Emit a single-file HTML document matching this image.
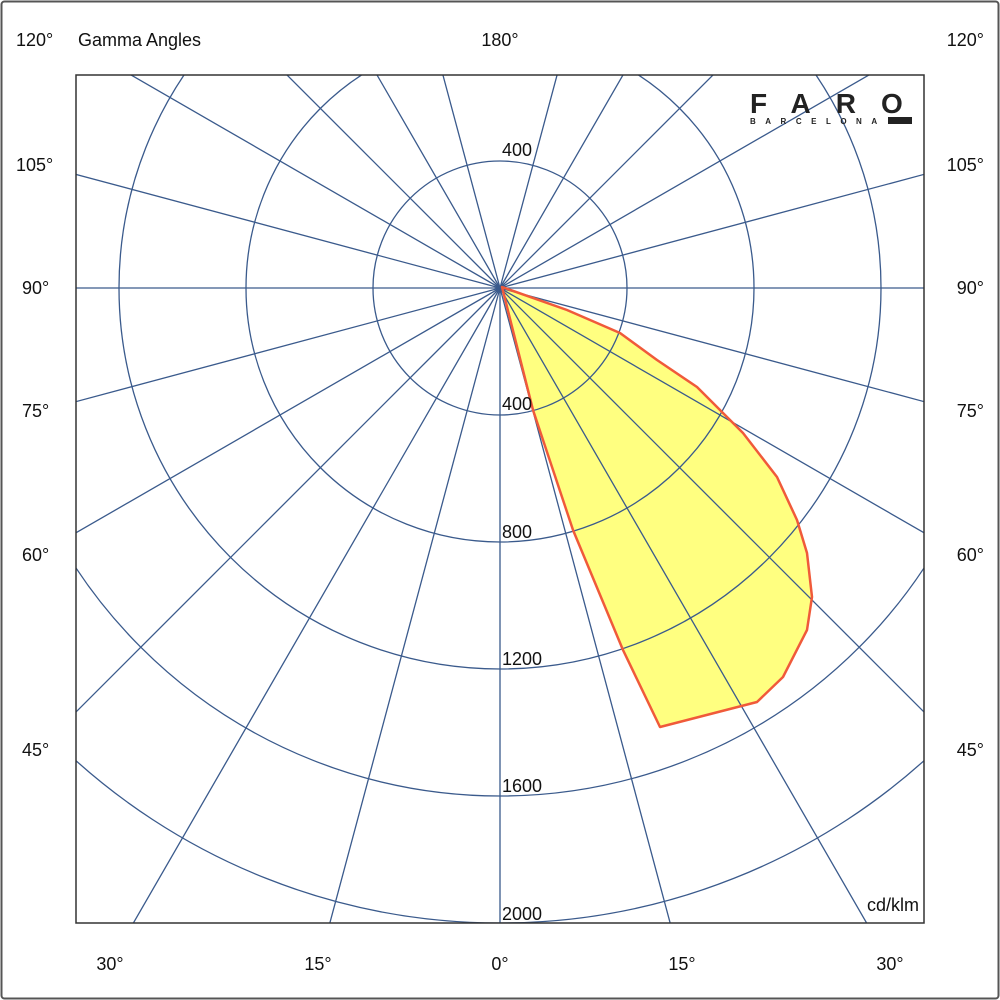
<!DOCTYPE html>
<html><head><meta charset="utf-8"><style>
html,body{margin:0;padding:0;background:#fff;overflow:hidden;width:1000px;height:1000px}
svg{display:block}
text{font-family:"Liberation Sans",sans-serif;fill:#111}
</style></head><body>
<svg width="1000" height="1000" viewBox="0 0 1000 1000" xmlns="http://www.w3.org/2000/svg">
<rect x="1.5" y="1.5" width="997" height="997" fill="#fff" stroke="#555" stroke-width="2" rx="3"/>
<defs><clipPath id="c"><rect x="76" y="75" width="848" height="848"/></clipPath></defs>
<g clip-path="url(#c)">
<polygon points="502,287 533,410 573,530 623,650 660,727 757,702 783,677 807,630 812,597 807,553 797,520 777,477 743,433 723,413 697,387 657,360 620,333 567,310" fill="#ffff80" stroke="none"/>
<g stroke="#3a5a8c" stroke-width="1.3" fill="none">
<circle cx="500" cy="288" r="127"/>
<circle cx="500" cy="288" r="254"/>
<circle cx="500" cy="288" r="381"/>
<circle cx="500" cy="288" r="508"/>
<circle cx="500" cy="288" r="635"/>
<line x1="500" y1="288" x2="500" y2="1500"/>
<line x1="500" y1="288" x2="500" y2="-1000" transform="rotate(15 500 288)"/>
<line x1="500" y1="288" x2="500" y2="-1000" transform="rotate(30 500 288)"/>
<line x1="500" y1="288" x2="500" y2="-1000" transform="rotate(45 500 288)"/>
<line x1="500" y1="288" x2="500" y2="-1000" transform="rotate(60 500 288)"/>
<line x1="500" y1="288" x2="500" y2="-1000" transform="rotate(75 500 288)"/>
<line x1="500" y1="288" x2="500" y2="-1000" transform="rotate(90 500 288)"/>
<line x1="500" y1="288" x2="500" y2="-1000" transform="rotate(105 500 288)"/>
<line x1="500" y1="288" x2="500" y2="-1000" transform="rotate(120 500 288)"/>
<line x1="500" y1="288" x2="500" y2="-1000" transform="rotate(135 500 288)"/>
<line x1="500" y1="288" x2="500" y2="-1000" transform="rotate(150 500 288)"/>
<line x1="500" y1="288" x2="500" y2="-1000" transform="rotate(165 500 288)"/>
<line x1="500" y1="288" x2="500" y2="-1000" transform="rotate(195 500 288)"/>
<line x1="500" y1="288" x2="500" y2="-1000" transform="rotate(210 500 288)"/>
<line x1="500" y1="288" x2="500" y2="-1000" transform="rotate(225 500 288)"/>
<line x1="500" y1="288" x2="500" y2="-1000" transform="rotate(240 500 288)"/>
<line x1="500" y1="288" x2="500" y2="-1000" transform="rotate(255 500 288)"/>
<line x1="500" y1="288" x2="500" y2="-1000" transform="rotate(270 500 288)"/>
<line x1="500" y1="288" x2="500" y2="-1000" transform="rotate(285 500 288)"/>
<line x1="500" y1="288" x2="500" y2="-1000" transform="rotate(300 500 288)"/>
<line x1="500" y1="288" x2="500" y2="-1000" transform="rotate(315 500 288)"/>
<line x1="500" y1="288" x2="500" y2="-1000" transform="rotate(330 500 288)"/>
<line x1="500" y1="288" x2="500" y2="-1000" transform="rotate(345 500 288)"/>
</g>
<polygon points="502,287 533,410 573,530 623,650 660,727 757,702 783,677 807,630 812,597 807,553 797,520 777,477 743,433 723,413 697,387 657,360 620,333 567,310" fill="none" stroke="#f05a3a" stroke-width="2.5" stroke-linejoin="round"/>
</g>
<rect x="76" y="75" width="848" height="848" fill="none" stroke="#333" stroke-width="1.5"/>
<g font-size="18">
<text x="502" y="156">400</text>
<text x="502" y="410">400</text>
<text x="502" y="538">800</text>
<text x="502" y="665">1200</text>
<text x="502" y="792">1600</text>
<text x="502" y="920">2000</text>
<text x="919" y="911" text-anchor="end">cd/klm</text>
<text x="16" y="46">120°</text>
<text x="78" y="46">Gamma Angles</text>
<text x="500" y="46" text-anchor="middle">180°</text>
<text x="984" y="46" text-anchor="end">120°</text>
<text x="16" y="171">105°</text><text x="984" y="171" text-anchor="end">105°</text>
<text x="22" y="294">90°</text><text x="984" y="294" text-anchor="end">90°</text>
<text x="22" y="417">75°</text><text x="984" y="417" text-anchor="end">75°</text>
<text x="22" y="561">60°</text><text x="984" y="561" text-anchor="end">60°</text>
<text x="22" y="756">45°</text><text x="984" y="756" text-anchor="end">45°</text>
<text x="110" y="970" text-anchor="middle">30°</text>
<text x="318" y="970" text-anchor="middle">15°</text>
<text x="500" y="970" text-anchor="middle">0°</text>
<text x="682" y="970" text-anchor="middle">15°</text>
<text x="890" y="970" text-anchor="middle">30°</text>
</g>
<text x="750" y="113" font-size="28" font-weight="bold" letter-spacing="25" style="fill:#222">FARO</text>
<text x="750" y="124" font-size="8" font-weight="bold" letter-spacing="9.5" style="fill:#222">BARCELONA</text>
<rect x="888" y="117" width="24" height="7" fill="#222"/>
</svg>
</body></html>
